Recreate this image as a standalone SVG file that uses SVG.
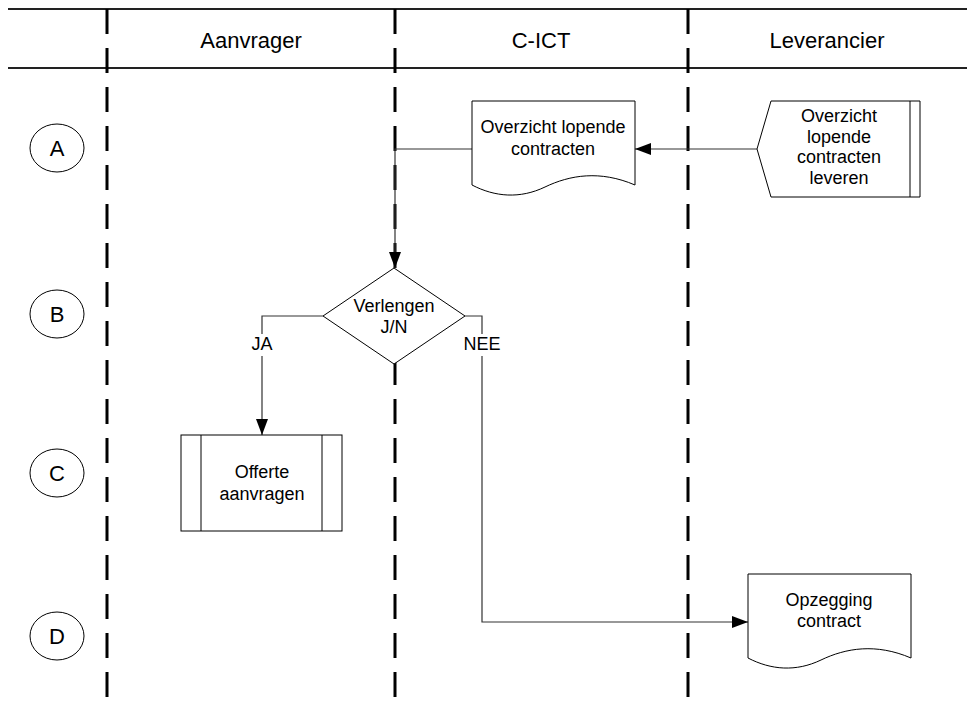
<svg xmlns="http://www.w3.org/2000/svg" width="967" height="702" viewBox="0 0 967 702">
<defs>
<style>
text{font-family:"Liberation Sans",Arial,sans-serif;fill:#000}
.hdr{font-size:22px;text-anchor:middle}
.lbl{font-size:18px;text-anchor:middle}
.lane{stroke:#000;stroke-width:3;stroke-dasharray:25 14;fill:none}
.hline{stroke:#222;stroke-width:2;fill:none}
.shape{fill:#fff;stroke:#000;stroke-width:1}
.conn{fill:none;stroke:#333;stroke-width:1.2}
</style>
<marker id="arr" viewBox="0 0 16 12" refX="16" refY="6" markerWidth="16" markerHeight="12" markerUnits="userSpaceOnUse" orient="auto">
<path d="M0,0 L16,6 L0,12 Z" fill="#000"/>
</marker>
</defs>
<rect width="967" height="702" fill="#fff"/>
<g id="lanes">
<line class="hline" x1="8" y1="9" x2="967" y2="9"/>
<line class="hline" x1="8" y1="68" x2="967" y2="68"/>
<line class="lane" x1="107" y1="9" x2="107" y2="702"/>
<line class="lane" x1="395" y1="9" x2="395" y2="702"/>
<line class="lane" x1="688" y1="9" x2="688" y2="702"/>
<text class="hdr" x="251" y="48">Aanvrager</text>
<text class="hdr" x="541" y="48">C-ICT</text>
<text class="hdr" x="827" y="48">Leverancier</text>
</g>
<g id="row-A"><ellipse class="shape" cx="57" cy="148" rx="27" ry="24"/><text class="hdr" x="57" y="156">A</text></g>
<g id="row-B"><ellipse class="shape" cx="57" cy="314" rx="27" ry="24"/><text class="hdr" x="57" y="322">B</text></g>
<g id="row-C"><ellipse class="shape" cx="57" cy="473" rx="27" ry="24"/><text class="hdr" x="57" y="481">C</text></g>
<g id="row-D"><ellipse class="shape" cx="57" cy="636" rx="27" ry="24"/><text class="hdr" x="57" y="644">D</text></g>
<g id="connectors">
<path class="conn" d="M757,149 L635,149" marker-end="url(#arr)"/>
<path class="conn" d="M472,149 L395,149 L395,268" marker-end="url(#arr)"/>
<path class="conn" d="M323,316 L262,316 L262,435" marker-end="url(#arr)"/>
<path class="conn" d="M465,316 L482,316 L482,622 L748,622" marker-end="url(#arr)"/>
<rect x="246" y="334" width="32" height="22" fill="#fff"/>
<text class="lbl" x="262" y="350">JA</text>
<rect x="462" y="334" width="40" height="22" fill="#fff"/>
<text class="lbl" x="482" y="350">NEE</text>
</g>
<g id="node-overzicht">
<path class="shape" d="M472,101 L635,101 L635,185 C600,170 570,175 545,187 C520,199 495,197 472,185 Z"/>
<text class="lbl" x="553" y="133">Overzicht lopende</text>
<text class="lbl" x="553" y="155">contracten</text>
</g>
<g id="node-leveren">
<path class="shape" d="M771,101 L920,101 L920,197 L771,197 L757,149 Z"/>
<line class="shape" x1="910" y1="101" x2="910" y2="197"/>
<text class="lbl" x="839" y="122">Overzicht</text>
<text class="lbl" x="839" y="143">lopende</text>
<text class="lbl" x="839" y="163">contracten</text>
<text class="lbl" x="839" y="184">leveren</text>
</g>
<g id="node-verlengen">
<path class="shape" d="M394,268 L465,316 L394,364 L323,316 Z"/>
<text class="lbl" x="394" y="312">Verlengen</text>
<text class="lbl" x="394" y="333">J/N</text>
</g>
<g id="node-offerte">
<rect class="shape" x="181" y="435" width="161" height="96"/>
<line class="shape" x1="201" y1="435" x2="201" y2="531"/>
<line class="shape" x1="322" y1="435" x2="322" y2="531"/>
<text class="lbl" x="262" y="478">Offerte</text>
<text class="lbl" x="262" y="500">aanvragen</text>
</g>
<g id="node-opzegging">
<path class="shape" d="M748,574 L911,574 L911,658 C876,643 846,648 821,660 C796,672 771,670 748,658 Z"/>
<text class="lbl" x="829" y="606">Opzegging</text>
<text class="lbl" x="829" y="627">contract</text>
</g>
</svg>
